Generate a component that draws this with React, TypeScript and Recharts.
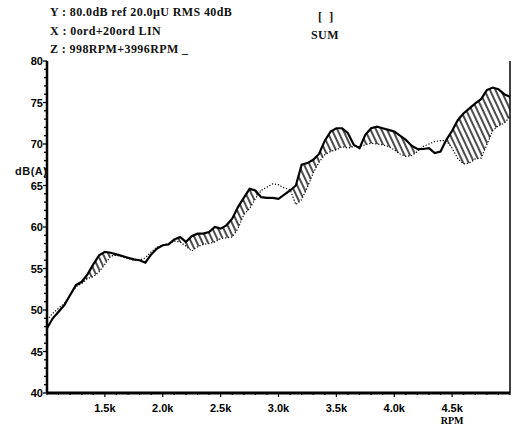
import { Area, ComposedChart, Line, XAxis, YAxis } from 'recharts';

// RPM sweep, 50 rpm steps
const rpm = [
  1000, 1050, 1100, 1150, 1200, 1250, 1300, 1350, 1400, 1450,
  1500, 1550, 1600, 1650, 1700, 1750, 1800, 1850, 1900, 1950,
  2000, 2050, 2100, 2150, 2200, 2250, 2300, 2350, 2400, 2450,
  2500, 2550, 2600, 2650, 2700, 2750, 2800, 2850, 2900, 2950,
  3000, 3050, 3100, 3150, 3200, 3250, 3300, 3350, 3400, 3450,
  3500, 3550, 3600, 3650, 3700, 3750, 3800, 3850, 3900, 3950,
  4000, 4050, 4100, 4150, 4200, 4250, 4300, 4350, 4400, 4450,
  4500, 4550, 4600, 4650, 4700, 4750, 4800, 4850, 4900, 4950,
  5000,
];

// solid trace, dB(A)
const solidDb = [
  47.8, 49.0, 49.8, 50.6, 51.8, 53.0, 53.4, 54.3, 55.5, 56.6,
  57.0, 56.9, 56.7, 56.5, 56.3, 56.1, 56.0, 55.7, 56.7, 57.4,
  57.8, 57.9, 58.5, 58.8, 58.2, 58.9, 59.2, 59.2, 59.4, 60.0,
  59.8, 60.2, 61.0, 62.4, 63.5, 64.6, 64.4, 63.6, 63.5, 63.5,
  63.4, 63.9, 64.4, 65.0, 67.5, 67.7, 68.1, 68.8, 70.4, 71.5,
  71.9, 71.9, 71.3, 69.9, 69.5, 71.1, 71.9, 72.1, 71.9, 71.7,
  71.5, 71.0, 70.5, 69.8, 69.4, 69.4, 69.5, 68.9, 69.1, 70.5,
  71.6, 72.9, 73.7, 74.3, 74.9, 75.4, 76.5, 76.8, 76.6, 76.0,
  75.7,
];

// dotted trace, dB(A)
const dottedDb = [
  48.8, 49.6, 50.2, 50.8, 51.8, 52.8, 53.2, 53.8, 54.0, 54.6,
  55.5, 56.5, 56.6, 56.4, 56.2, 56.0, 56.0, 56.3, 57.0, 57.6,
  57.8, 58.0, 58.3, 58.2, 57.7, 57.1, 57.6, 57.9, 58.0, 58.2,
  58.6, 58.7, 58.8, 59.8, 61.5, 62.2, 63.4, 64.4, 64.8, 65.2,
  65.1, 64.7, 64.5, 62.7, 63.3, 64.8, 66.5, 67.8, 68.7, 69.1,
  69.3, 69.7, 69.5, 69.7, 69.7, 69.9, 70.1, 70.0, 69.9, 69.7,
  69.3, 68.8, 68.5, 68.6, 69.1, 69.7, 70.0, 70.3, 70.4, 70.4,
  69.5, 68.2, 67.6, 67.7, 68.2, 68.3, 69.9, 71.6, 72.2, 72.5,
  73.3,
];

const yTicks = [
  40, 41, 42, 43, 44, 45, 46, 47, 48, 49, 50, 51, 52, 53, 54, 55, 56, 57, 58, 59,
  60, 61, 62, 63, 64, 65, 66, 67, 68, 69, 70, 71, 72, 73, 74, 75, 76, 77, 78, 79, 80,
];
const yLabels = [40, 45, 50, 55, 60, 65, 70, 75, 80];

const xTicks = [
  1000, 1100, 1200, 1300, 1400, 1500, 1600, 1700, 1800, 1900,
  2000, 2100, 2200, 2300, 2400, 2500, 2600, 2700, 2800, 2900,
  3000, 3100, 3200, 3300, 3400, 3500, 3600, 3700, 3800, 3900,
  4000, 4100, 4200, 4300, 4400, 4500, 4600, 4700, 4800, 4900, 5000,
];
const xLabels: Record<number, string> = {
  1500: '1.5k', 2000: '2.0k', 2500: '2.5k', 3000: '3.0k', 3500: '3.5k', 4000: '4.0k', 4500: '4.5k',
};

const data = rpm.map((r, i) => ({
  rpm: r,
  solid: solidDb[i],
  dotted: dottedDb[i],
  band: [dottedDb[i], Math.max(solidDb[i], dottedDb[i])],
}));

const tickFont = "'Liberation Sans Narrow', 'Liberation Sans', Arial, sans-serif";
const headFont = "'Liberation Serif', 'DejaVu Serif', serif";

const YTick = ({ x, y, payload }: any) => {
  const major = yLabels.includes(payload.value);
  return (
    <g>
      <line x1={x - (major ? 4 : 3)} y1={y} x2={x} y2={y} stroke="#000" strokeWidth={1.3} />
      {major && (
        <text x={x - 4} y={y + 4} textAnchor="end" fontSize={11} fontWeight="bold" fontFamily={tickFont} fill="#000">
          {payload.value}
        </text>
      )}
    </g>
  );
};

const XTick = ({ x, y, payload }: any) => {
  const label = xLabels[payload.value];
  return (
    <g>
      <line x1={x} y1={y} x2={x} y2={y + (label ? 4 : 2)} stroke="#000" strokeWidth={1.2} />
      {label && (
        <text x={x} y={y + 19} textAnchor="middle" fontSize={11} fontWeight="bold" fontFamily={tickFont} fill="#000">
          {label}
        </text>
      )}
      {payload.value === 4500 && (
        <text x={x} y={y + 31} textAnchor="middle" fontSize={10} fontWeight="bold" fontFamily={headFont} fill="#000">
          RPM
        </text>
      )}
    </g>
  );
};

const TopTick = ({ x, y }: any) => (
  <line x1={x} y1={y} x2={x} y2={y - 2} stroke="#000" strokeWidth={1} />
);

const RightTick = ({ x, y }: any) => (
  <line x1={x} y1={y} x2={x + 2} y2={y} stroke="#000" strokeWidth={1} />
);

const headStyle: React.CSSProperties = {
  position: 'absolute',
  fontFamily: headFont,
  fontSize: 12,
  fontWeight: 'bold',
  letterSpacing: 0.4,
  lineHeight: '14px',
  whiteSpace: 'pre',
  color: '#111',
};

export default function App() {
  return (
    <div style={{ position: 'absolute', left: 0, top: 0, width: 512, height: 425, background: '#fff' }}>
      <div style={{ ...headStyle, left: 50, top: 5 }}>Y : 80.0dB ref 20.0µU RMS 40dB</div>
      <div style={{ ...headStyle, left: 50, top: 24 }}>X : 0ord+20ord LIN</div>
      <div style={{ ...headStyle, left: 50, top: 42 }}>Z : 998RPM+3996RPM _</div>
      <div style={{ ...headStyle, left: 318, top: 10 }}>[  ]</div>
      <div style={{ ...headStyle, left: 311, top: 28 }}>SUM</div>
      <div style={{ ...headStyle, left: 15, top: 164, fontFamily: tickFont, fontSize: 11, letterSpacing: 0.5 }}>dB(A)</div>
      <ComposedChart width={512} height={425} data={data} margin={{ top: 61, right: 0, bottom: 0, left: 0 }}>
        <defs>
          <pattern id="hatch" width="5" height="5" patternUnits="userSpaceOnUse" patternTransform="rotate(-25)">
            <line x1="1" y1="0" x2="1" y2="5" stroke="#000" strokeWidth="1.4" />
          </pattern>
        </defs>
        <XAxis
          xAxisId="b"
          dataKey="rpm"
          type="number"
          domain={[1000, 5000]}
          ticks={xTicks}
          interval={0}
          height={32}
          tickSize={0}
          tickMargin={0}
          axisLine={{ stroke: '#000', strokeWidth: 3 }}
          tickLine={false}
          tick={XTick}
        />
        <XAxis
          xAxisId="t"
          orientation="top"
          dataKey="rpm"
          type="number"
          domain={[1000, 5000]}
          ticks={xTicks}
          interval={0}
          height={0}
          tickSize={0}
          tickMargin={0}
          axisLine={{ stroke: '#000', strokeWidth: 2 }}
          tickLine={false}
          tick={TopTick}
        />
        <YAxis
          yAxisId="l"
          type="number"
          domain={[40, 80]}
          ticks={yTicks}
          interval={0}
          width={47}
          tickSize={0}
          tickMargin={0}
          axisLine={{ stroke: '#000', strokeWidth: 2.5 }}
          tickLine={false}
          tick={YTick}
        />
        <YAxis
          yAxisId="r"
          orientation="right"
          type="number"
          domain={[40, 80]}
          ticks={yTicks}
          interval={0}
          width={2}
          tickSize={0}
          tickMargin={0}
          axisLine={{ stroke: '#000', strokeWidth: 1.5 }}
          tickLine={false}
          tick={RightTick}
        />
        <Area
          xAxisId="b"
          yAxisId="l"
          type="linear"
          dataKey="band"
          stroke="none"
          fill="url(#hatch)"
          fillOpacity={1}
          isAnimationActive={false}
          activeDot={false}
        />
        <Line
          xAxisId="b"
          yAxisId="l"
          type="linear"
          dataKey="dotted"
          stroke="#000"
          strokeWidth={1.2}
          strokeDasharray="1.2 1.8"
          dot={false}
          isAnimationActive={false}
        />
        <Line
          xAxisId="b"
          yAxisId="l"
          type="linear"
          dataKey="solid"
          stroke="#000"
          strokeWidth={2.2}
          dot={false}
          isAnimationActive={false}
        />
      </ComposedChart>
    </div>
  );
}
